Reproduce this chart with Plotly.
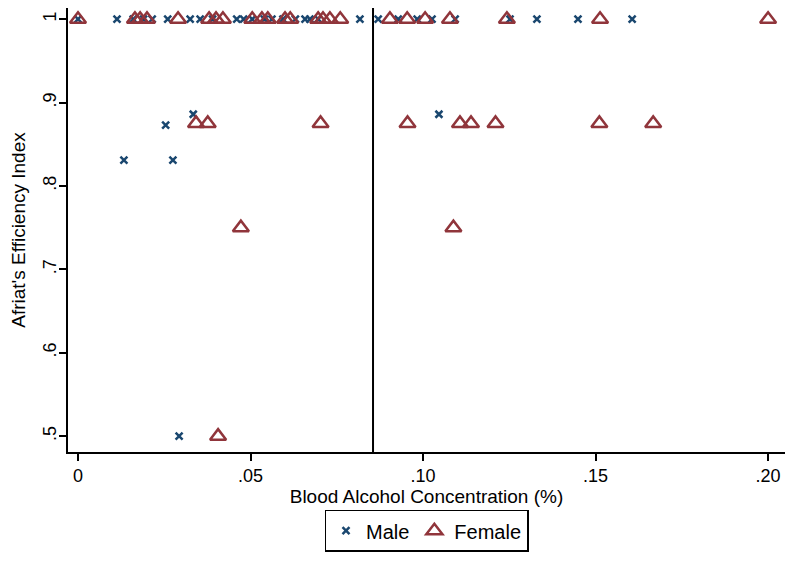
import plotly.graph_objects as go

# blood alcohol concentration (%) and Afriat's efficiency index
male_bac = [0.0, 0.0113, 0.016, 0.019, 0.0215, 0.026, 0.0325, 0.0354, 0.039, 0.046,
            0.048, 0.0505, 0.054, 0.0562, 0.0594, 0.063, 0.0658, 0.0672, 0.0696, 0.0817,
            0.087, 0.0928, 0.0983, 0.1026, 0.1093, 0.1252, 0.133, 0.1449, 0.1606,
            0.0334, 0.0254, 0.0133, 0.0275, 0.1046, 0.0293]
male_aei = [1.0] * 29 + [0.886, 0.873, 0.831, 0.831, 0.886, 0.5]

female_bac = [0.0, 0.0165, 0.018, 0.020, 0.029, 0.038, 0.040, 0.042, 0.0505, 0.0533,
              0.055, 0.060, 0.0615, 0.0696, 0.071, 0.073, 0.076, 0.0904, 0.0954, 0.1006,
              0.1078, 0.1243, 0.1513, 0.200,
              0.0342, 0.0376, 0.0703, 0.0955, 0.1107, 0.1139, 0.121, 0.1511, 0.1667,
              0.0472, 0.1088, 0.0406]
female_aei = [1.0] * 24 + [0.875] * 9 + [0.75, 0.75, 0.5]

cutoff = 0.0855

x_ticks = [0, 0.05, 0.10, 0.15, 0.20]
x_labels = ["0", ".05", ".10", ".15", ".20"]
y_ticks = [0.5, 0.6, 0.7, 0.8, 0.9, 1.0]
y_labels = [".5", ".6", ".7", ".8", ".9", "1"]

fig = go.Figure()
fig.add_trace(go.Scatter(x=male_bac, y=male_aei, mode="markers", name="Male",
                         marker=dict(symbol="x-thin", size=7, color="#1a476f",
                                     line=dict(width=2.5, color="#1a476f"))))
fig.add_trace(go.Scatter(x=female_bac, y=female_aei, mode="markers", name="Female",
                         marker=dict(symbol="triangle-up-open", size=14, color="#90353b",
                                     line=dict(width=2.5, color="#90353b"))))

fig.add_shape(type="line", x0=cutoff, x1=cutoff, y0=0, y1=1, xref="x", yref="paper",
              line=dict(color="black", width=2))

axis_common = dict(showgrid=False, zeroline=False, showline=True, linecolor="black",
                   linewidth=1.5, ticks="outside", ticklen=7, tickwidth=1.5,
                   tickcolor="black", tickfont=dict(size=18, color="black"),
                   automargin=False)

# the page body adds an 8px offset, so the margins are shifted to compensate
fig.update_layout(
    width=800, height=572,
    margin=dict(l=60, r=23, t=0, b=128),
    plot_bgcolor="white", paper_bgcolor="white",
    font=dict(family="Liberation Sans", color="black"),
    showlegend=True,
    legend=dict(orientation="h", x=0.5, xanchor="center", y=-0.13, yanchor="top",
                bordercolor="black", borderwidth=1.5, font=dict(size=20),
                itemwidth=30),
    xaxis=dict(range=[-0.0029, 0.2049], tickvals=x_ticks, ticktext=x_labels,
               title=dict(text="Blood Alcohol Concentration (%)", font=dict(size=19), standoff=3),
               **axis_common),
    yaxis=dict(range=[0.481, 1.0134], tickvals=y_ticks, ticktext=y_labels, tickangle=-90,
               ticklabelstandoff=-4,
               title=dict(text="Afriat's Efficiency Index", font=dict(size=19), standoff=12),
               **axis_common),
)

fig.write_html("out.html")
